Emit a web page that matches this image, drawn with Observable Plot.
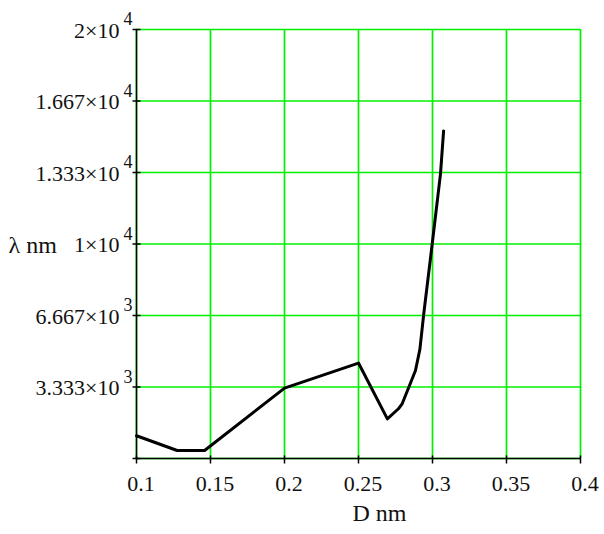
<!DOCTYPE html>
<html>
<head>
<meta charset="utf-8">
<script src="https://cdn.jsdelivr.net/npm/d3@7"></script>
<script src="https://cdn.jsdelivr.net/npm/@observablehq/plot@0.6"></script>
<style>
  html, body { margin: 0; padding: 0; background: #fff; }
</style>
</head>
<body>
<div id="chart"></div>
<script>
// Data (D in nm, λ in nm)
const dValues = [0.1, 0.1275, 0.146, 0.2, 0.25, 0.2695, 0.277, 0.2795, 0.284, 0.2885, 0.2915, 0.2941, 0.2998, 0.3054, 0.3075];
const lambdaValues = [1060, 373, 373, 3280, 4450, 1850, 2320, 2550, 3320, 4100, 5100, 6750, 10000, 13270, 15270];

// Axis ticks
const xTicks = [0.1, 0.15, 0.2, 0.25, 0.3, 0.35, 0.4];
const xTickLabels = ["0.1", "0.15", "0.2", "0.25", "0.3", "0.35", "0.4"];
const yTicks = [0, 3333.333, 6666.667, 10000, 13333.333, 16666.667, 20000];
const yLabelTicks = [3333.333, 6666.667, 10000, 13333.333, 16666.667, 20000];
const yMantissas = ["3.333", "6.667", "1", "1.333", "1.667", "2"];
const yExponents = ["3", "3", "4", "4", "4", "4"];

const xLabel = "D nm";
const yLabel = "\u03bb nm";

const data = dValues.map((d, i) => ({d, lambda: lambdaValues[i]}));
const yLabelData = yLabelTicks.map((v, i) => ({v, base: yMantissas[i] + "\u00d710", exp: yExponents[i]}));
const xLabelData = xTicks.map((v, i) => ({v, label: xTickLabels[i]}));

const hDash = {draw(ctx) { ctx.moveTo(-4, 0); ctx.lineTo(4, 0); }};
const vDash = {draw(ctx) { ctx.moveTo(0, -3); ctx.lineTo(0, 5); }};

const font = "Liberation Serif, Times New Roman, serif";
const grid = "#00f000";

const chart = Plot.plot({
  width: 604,
  height: 534,
  marginLeft: 136,
  marginRight: 24,
  marginTop: 29,
  marginBottom: 76,
  style: {fontFamily: font, background: "#fff", overflow: "visible"},
  x: {domain: [0.1, 0.4], axis: null},
  y: {domain: [0, 20000], axis: null},
  marks: [
    Plot.ruleX(xTicks, {stroke: grid, strokeWidth: 1.7}),
    Plot.ruleY(yTicks, {stroke: grid, strokeWidth: 1.7}),
    Plot.ruleX([0.1], {stroke: "#000", strokeWidth: 1.5}),
    Plot.ruleY([0], {stroke: "#000", strokeWidth: 1.5}),
    Plot.dot(yTicks, {x: () => 0.1, y: d => d, symbol: hDash, stroke: "#000", strokeWidth: 1.5, fill: "none"}),
    Plot.dot(xTicks, {x: d => d, y: () => 0, symbol: vDash, stroke: "#000", strokeWidth: 1.5, fill: "none"}),
    Plot.line(data, {x: "d", y: "lambda", stroke: "#000", strokeWidth: 3, strokeLinejoin: "round"}),
    Plot.text(yLabelData, {x: () => 0.1, y: "v", text: "base", textAnchor: "end", dx: -17, dy: 1, fontSize: 22, fill: "#111"}),
    Plot.text(yLabelData, {x: () => 0.1, y: "v", text: "exp", textAnchor: "end", dx: -4, dy: -10, fontSize: 18, fill: "#111"}),
    Plot.text(xLabelData, {x: "v", y: () => 0, text: "label", dx: 4.5, dy: 25, fontSize: 22, fill: "#111"}),
    Plot.text([xLabel], {frameAnchor: "bottom", text: d => d, textAnchor: "middle", dx: 21, dy: 62, fontSize: 24, fill: "#111"}),
    Plot.text([yLabel], {frameAnchor: "left", text: d => d, textAnchor: "start", dx: -128, dy: 1, fontSize: 24, fill: "#111"})
  ]
});
document.getElementById("chart").appendChild(chart);
</script>
</body>
</html>
